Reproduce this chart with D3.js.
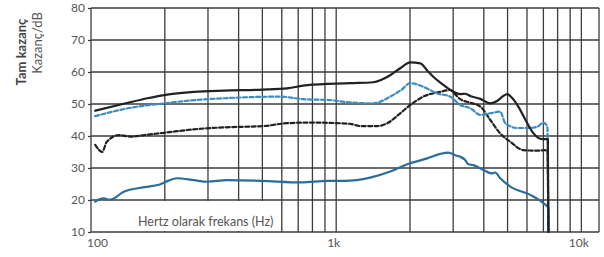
<!DOCTYPE html>
<html>
<head>
<meta charset="utf-8">
<style>
  body { margin: 0; background: #fff; font-family: Lato, "Open Sans", sans-serif; }
  svg { display: block; }
  .grid line { stroke: #3c3c3c; stroke-width: 1.3; }
  .axis text { fill: #555; font-size: 12px; font-family: Lato, sans-serif; }
  .axis line { stroke: #3c3c3c; stroke-width: 1.3; }
  .axis .domain { display: none; }
  .series { fill: none; stroke-linejoin: round; stroke-linecap: round; }
</style>
</head>
<body>
<script src="https://cdn.jsdelivr.net/npm/d3@7"></script>
<script>

  // readings: [frequency in Hz, gain in dB]
  var blackSolid = [[104,47.9],[140,50.3],[170,51.8],[199,52.8],[263,53.8],[349,54.2],[500,54.5],[631,54.9],
    [762,55.9],[1141,56.5],[1416,56.8],[1661,59],[1850,61.5],[2005,63],[2203,62.7],[2350,60.5],[2489,58.5],
    [2700,56.3],[2919,54.4],[3207,53.1],[3350,53.2],[3524,52.5],[3871,51.6],[4253,50.2],[4550,51],[4800,52.5],
    [4986,53.1],[5200,52],[5529,49.2],[6020,44],[6369,40.9],[6929,39],[7300,39],[7335,10]];

  var blueDashed = [[104,46.2],[140,48.6],[199,50.2],[263,51.2],[349,51.8],[591,52.3],[733,51.5],[945,51.2],
    [1141,50.5],[1416,50.2],[1661,52.3],[1850,54.5],[2005,56.5],[2265,55.4],[2583,53.3],[2919,52.3],
    [3207,49.7],[3524,48.7],[3871,46.6],[4253,47.1],[4667,47.6],[4894,44],[5478,42.5],[6020,42.5],
    [6609,42.9],[6997,44.2],[7266,42.9],[7335,10]];

  var blackDashed = [[104,37.2],[108,35.6],[111,35],[116,38.2],[130,40.3],[146,39.8],[165,40.3],[199,41],
    [263,42.1],[349,42.7],[504,43.1],[631,44],[783,44.2],[1141,43.8],[1253,43.1],[1469,43.1],[1616,44],
    [1825,47.1],[2005,49.7],[2265,52.3],[2658,53.8],[2919,54.4],[3060,53],[3207,51.5],[3524,50.4],
    [3871,49.2],[4253,45],[4667,40.8],[5129,38.2],[5797,35.6],[6609,35.4],[7266,35.6],[7335,10]];

  var blueSolid = [[104,19.5],[108,20.2],[113,20.5],[118,20.1],[124,20.5],[136,22.6],[165,24],[193,25],
    [202,25.7],[224,26.8],[263,26.2],[298,25.7],[359,26.2],[494,26],[720,25.5],[919,26],[1078,26],
    [1377,27],[1661,28.9],[1950,31.2],[2351,33],[2658,34.4],[2866,34.8],[3060,34],[3207,33.5],[3350,32.6],
    [3458,31.2],[3624,30.9],[3981,29.4],[4300,28.3],[4450,28.6],[4667,26.8],[5129,24.2],[6190,21.6],
    [6997,19],[7335,17.5],[7380,10]];

  var xGrid = [100,200,300,400,500,600,700,800,900,1000,2000,3000,4000,5000,6000,7000,8000,9000,10000,11800];
  var yTicks = [10,20,30,40,50,60,70,80];
  var xTicks = [100,1000,10000];
  var xTickLabels = ["100","1k","10k"];

  var W = 604, H = 257;
  var x = d3.scaleLog().domain([100, 11800]).range([91, 599]);
  var y = d3.scaleLinear().domain([10, 80]).range([232, 8]);

  var svg = d3.select("body").append("svg").attr("width", W).attr("height", H);

  var grid = svg.append("g").attr("class", "grid");
  grid.selectAll(".v").data(xGrid).enter().append("line")
      .attr("x1", function(d){ return x(d); }).attr("x2", function(d){ return x(d); })
      .attr("y1", y(80)).attr("y2", y(10));
  grid.selectAll(".h").data(yTicks).enter().append("line")
      .attr("x1", x(100)).attr("x2", x(11800))
      .attr("y1", function(d){ return y(d); }).attr("y2", function(d){ return y(d); });

  // white band behind the axis caption
  svg.append("rect")
      .attr("x", x(100) + 1).attr("y", y(20) + 1)
      .attr("width", x(555) - x(100) - 1).attr("height", y(10) - y(20) - 2)
      .attr("fill", "#fff");

  svg.append("text")
      .attr("x", 138).attr("y", 226)
      .attr("fill", "#555").style("font-size", "12.5px")
      .text("Hertz olarak frekans (Hz)");

  svg.append("g").attr("class", "axis")
      .attr("transform", "translate(" + x(100) + ",0)")
      .call(d3.axisLeft(y).tickValues(yTicks).tickSize(3).tickPadding(3));

  svg.append("g").attr("class", "axis")
      .attr("transform", "translate(0," + y(10) + ")")
      .call(d3.axisBottom(x).tickValues(xTicks).tickSize(0).tickPadding(6)
        .tickFormat(function(d, i){ return xTickLabels[i]; }))
    .selectAll("text")
      .attr("dx", function(d, i){ return i === 0 ? 6 : -3; });

  var line = d3.line()
      .x(function(d){ return x(d[0]); })
      .y(function(d){ return y(d[1]); })
      .curve(d3.curveMonotoneX);

  svg.append("path").datum(blueSolid).attr("class", "series")
      .attr("d", line).attr("stroke", "#2a6d9c").attr("stroke-width", 2.2);
  svg.append("path").datum(blackDashed).attr("class", "series")
      .attr("d", line).attr("stroke", "#222").attr("stroke-width", 2.2)
      .attr("stroke-dasharray", "4,2.5").attr("stroke-linecap", "butt");
  svg.append("path").datum(blueDashed).attr("class", "series")
      .attr("d", line).attr("stroke", "#3a8cc2").attr("stroke-width", 2.2)
      .attr("stroke-dasharray", "4,2.5").attr("stroke-linecap", "butt");
  svg.append("path").datum(blackSolid).attr("class", "series")
      .attr("d", line).attr("stroke", "#222").attr("stroke-width", 2.2);

  // y axis titles
  svg.append("text")
      .attr("transform", "translate(26,52) rotate(-90)")
      .attr("text-anchor", "middle").attr("fill", "#444")
      .style("font-size", "13px").style("font-weight", "bold")
      .text("Tam kazanç");
  svg.append("text")
      .attr("transform", "translate(42,43) rotate(-90)")
      .attr("text-anchor", "middle").attr("fill", "#555")
      .style("font-size", "13px")
      .text("Kazanç/dB");

</script>
</body>
</html>
